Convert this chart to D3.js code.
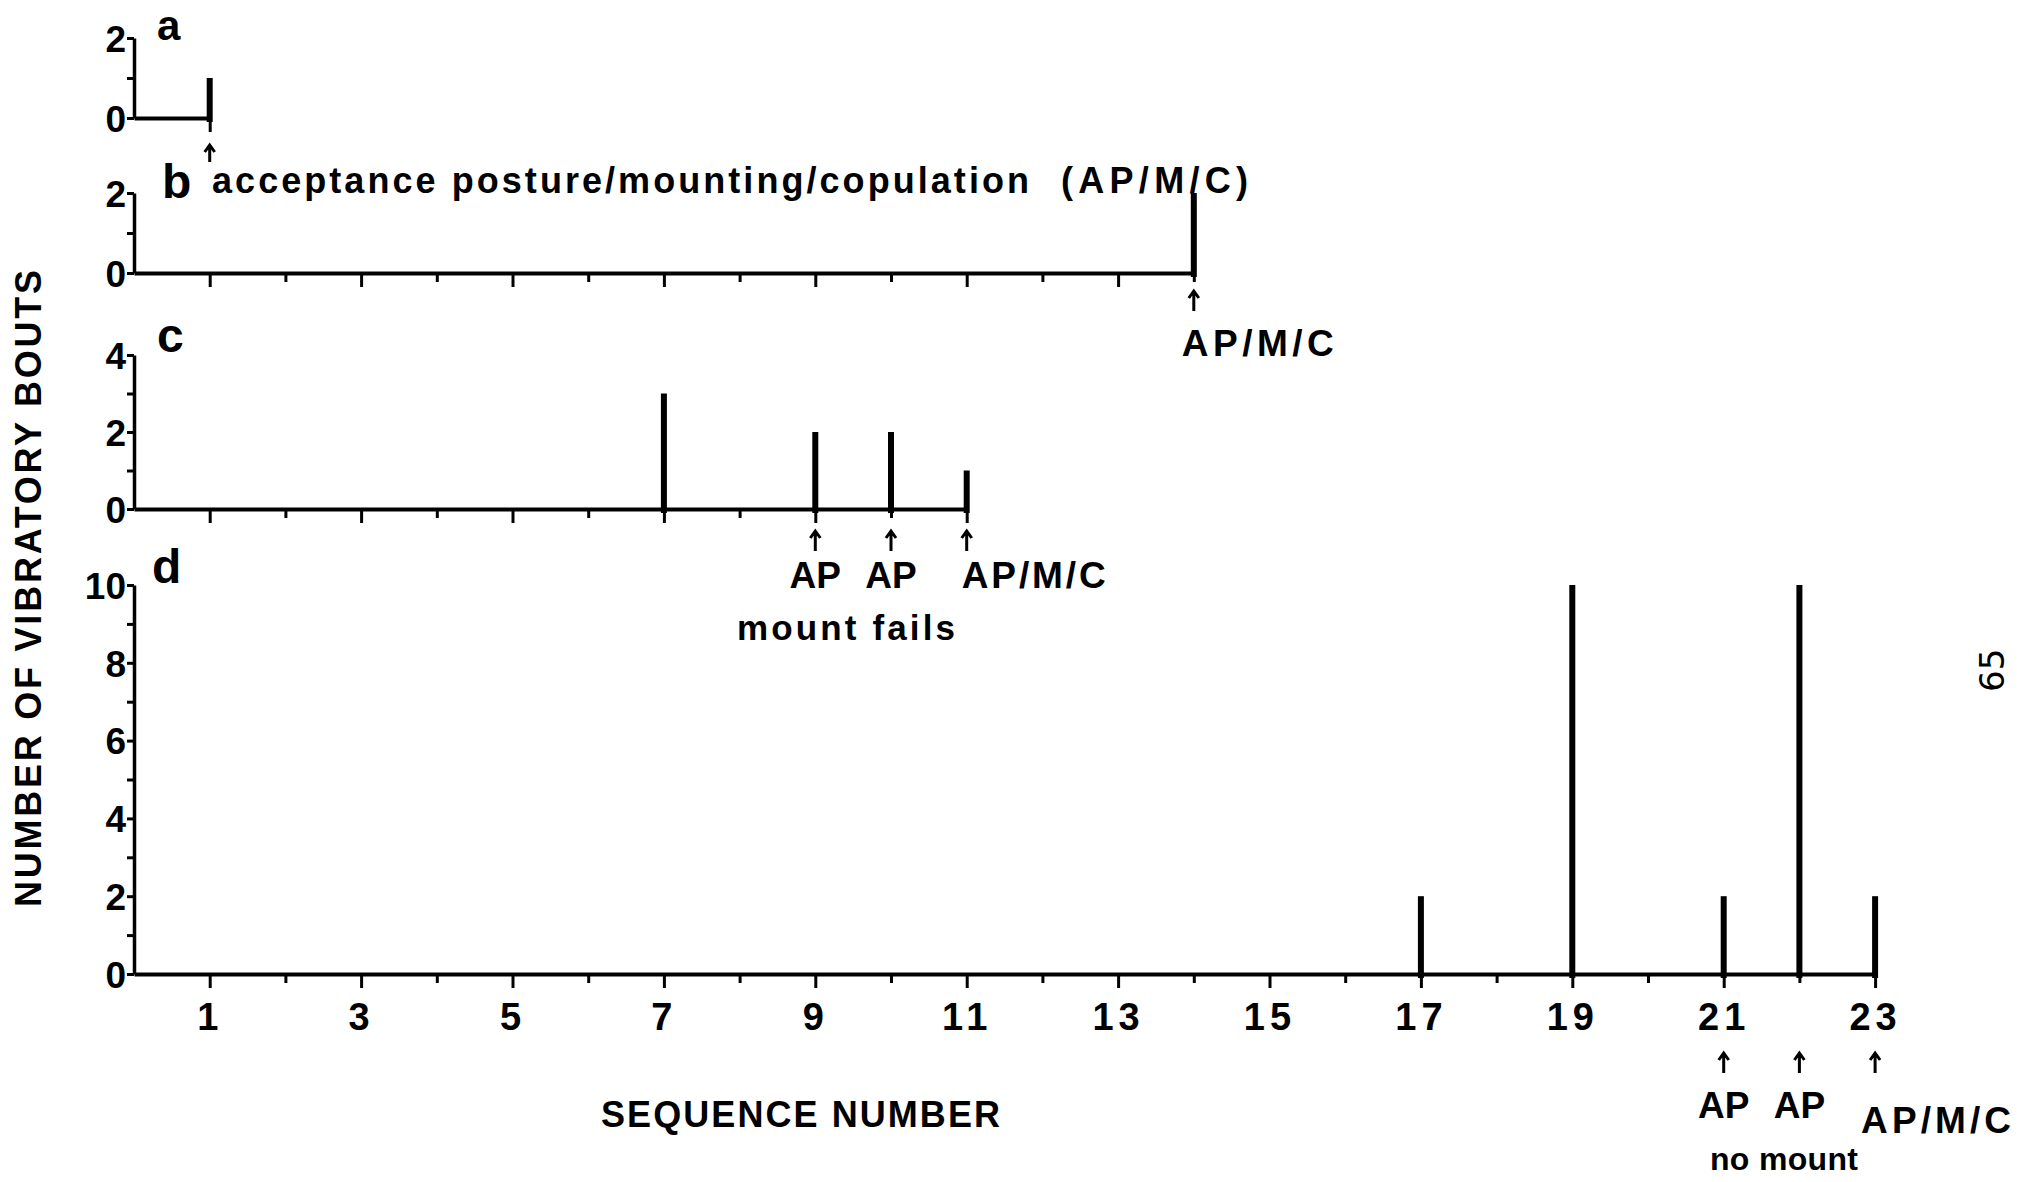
<!DOCTYPE html>
<html>
<head>
<meta charset="utf-8">
<script src="https://cdn.jsdelivr.net/npm/d3@7"></script>
<style>
  html, body { margin: 0; padding: 0; background: #fff; }
  svg text { font-family: "Liberation Sans Narrow", "Liberation Sans", Arial, sans-serif; font-weight: bold; fill: #000; }
  .wide { font-family: "Liberation Sans", Arial, sans-serif; }
</style>
</head>
<body>
<script>
// vibratory bouts per sequence number, one set of arrays per panel
const panelNames = ["a", "b", "c", "d"];
const aSeq = [1],              aBouts = [1];
const bSeq = [14],             bBouts = [2];
const cSeq = [7, 9, 10, 11],   cBouts = [3, 2, 2, 1];
const dSeq = [17, 19, 21, 22, 23], dBouts = [2, 10, 2, 10, 2];

const seqMax = [1, 14, 11, 23];
const boutMax = [2, 2, 4, 10];
const xTickLabels = [1, 3, 5, 7, 9, 11, 13, 15, 17, 19, 21, 23];

// behaviour notes under the sequence axis
const bNoteSeq = [14],        bNotes = ["AP/M/C"];
const cNoteSeq = [9, 10, 11], cNotes = ["AP", "AP", "AP/M/C"];
const dNoteSeq = [21, 22, 23], dNotes = ["AP", "AP", "AP/M/C"];

const W = 2017, H = 1182;
const svg = d3.select("body").append("svg").attr("width", W).attr("height", H);

var x0 = 134, unit = 75.7;
var panelY = [[118, 38], [273, 193], [509, 355], [974, 585]];
var seqs = [aSeq, bSeq, cSeq, dSeq];
var bouts = [aBouts, bBouts, cBouts, dBouts];
var scales = [];

for (var p = 0; p < 4; p++)
{
	var x = d3.scaleLinear().domain([0, seqMax[p]]).range([x0, x0 + seqMax[p] * unit]);
	var y = d3.scaleLinear().domain([0, boutMax[p]]).range(panelY[p]);
	scales.push({x: x, y: y});

	var g = svg.append("g");

	// y axis
	var yAxis = d3.axisLeft(y)
		.tickValues(d3.range(0, boutMax[p] + 1))
		.tickSize(7).tickSizeOuter(0).tickPadding(1)
		.tickFormat(v => v % 2 === 0 ? v : "");
	var ya = g.append("g").attr("transform", "translate(" + x0 + ",0)").call(yAxis);
	ya.select(".domain").attr("stroke-width", 3.5);
	ya.selectAll(".tick line").attr("stroke-width", 3);
	ya.selectAll(".tick text").attr("font-size", 37).attr("dy", "0.36em");

	// x axis
	var xAxis = d3.axisBottom(x)
		.tickValues(d3.range(1, seqMax[p] + 1))
		.tickSize(12).tickSizeOuter(0).tickPadding(17)
		.tickFormat(v => (p === 3 && xTickLabels.indexOf(v) >= 0) ? v : "");
	var xa = g.append("g").attr("transform", "translate(0," + y(0) + ")").call(xAxis);
	xa.select(".domain").attr("stroke-width", 4);
	xa.selectAll(".tick line").attr("stroke-width", 3)
		.attr("y2", v => v % 2 === 1 ? 14 : 9);
	xa.selectAll(".tick text").attr("font-size", 38).attr("letter-spacing", 5);
	xa.selectAll("text").attr("fill", "#000");
	xa.selectAll("path, line").attr("stroke", "#000");
	ya.selectAll("path, line").attr("stroke", "#000");

	// bars
	g.selectAll(".bar")
		.data(d3.zip(seqs[p], bouts[p]))
		.enter().append("line")
		.attr("class", "bar")
		.attr("x1", d => x(d[0])).attr("x2", d => x(d[0]))
		.attr("y1", y(0) + 4).attr("y2", d => y(d[1]))
		.attr("stroke", "#000").attr("stroke-width", 6);

	// panel letter
	g.append("text").attr("class", "wide")
		.attr("x", [157, 162, 157, 152][p]).attr("y", [40, 198, 352, 583][p])
		.attr("font-size", [42, 48, 48, 48][p]).text(panelNames[p]);
}

function arrow(xp, top, bottom)
{
	svg.append("path")
		.attr("d", "M" + xp + "," + bottom + "V" + top + "M" + (xp - 5) + "," + (top + 7) + "L" + xp + "," + top + "L" + (xp + 5) + "," + (top + 7))
		.attr("fill", "none").attr("stroke", "#000").attr("stroke-width", 3);
}

// panel a note
arrow(scales[0].x(1), 145, 162);
svg.append("text").attr("class", "wide")
	.attr("x", 212).attr("y", 193).attr("font-size", 36)
	.attr("textLength", 817).attr("lengthAdjust", "spacing")
	.text("acceptance posture/mounting/copulation");
svg.append("text").attr("class", "wide")
	.attr("x", 1061).attr("y", 193).attr("font-size", 36)
	.attr("textLength", 187).attr("lengthAdjust", "spacing")
	.text("(AP/M/C)");

// panel b note
bNoteSeq.forEach(function (s, i) {
	var xp = scales[1].x(s);
	arrow(xp, 291, 311);
	svg.append("text").attr("class", "wide").attr("x", xp - 12).attr("y", 356)
		.attr("font-size", 37).attr("textLength", 152).attr("lengthAdjust", "spacing")
		.text(bNotes[i]);
});

// panel c notes
cNoteSeq.forEach(function (s, i) {
	var xp = scales[2].x(s);
	arrow(xp, 531, 551);
	var t = svg.append("text").attr("class", "wide").attr("y", 588).attr("font-size", 37).text(cNotes[i]);
	if (cNotes[i] === "AP") t.attr("x", xp).attr("text-anchor", "middle");
	else t.attr("x", xp - 5).attr("textLength", 144).attr("lengthAdjust", "spacing");
});
svg.append("text").attr("class", "wide")
	.attr("x", 737).attr("y", 640).attr("font-size", 35)
	.attr("textLength", 218).attr("lengthAdjust", "spacing")
	.text("mount fails");

// panel d notes
dNoteSeq.forEach(function (s, i) {
	var xp = scales[3].x(s);
	arrow(xp, 1053, 1073);
	var t = svg.append("text").attr("class", "wide").attr("font-size", 37).text(dNotes[i]);
	if (dNotes[i] === "AP") t.attr("x", xp).attr("y", 1118).attr("text-anchor", "middle");
	else t.attr("x", xp - 14).attr("y", 1133).attr("textLength", 150).attr("lengthAdjust", "spacing");
});
svg.append("text").attr("class", "wide")
	.attr("x", 1710).attr("y", 1170).attr("font-size", 32)
	.attr("textLength", 148).attr("lengthAdjust", "spacing")
	.text("no mount");

// axis titles
svg.append("text").attr("class", "wide")
	.attr("x", 601).attr("y", 1127).attr("font-size", 36)
	.attr("textLength", 399).attr("lengthAdjust", "spacing")
	.text("SEQUENCE NUMBER");

svg.append("text").attr("class", "wide")
	.attr("transform", "translate(41,907) rotate(-90)")
	.attr("font-size", 36)
	.attr("textLength", 637).attr("lengthAdjust", "spacing")
	.text("NUMBER OF VIBRATORY BOUTS");

// page number, handwritten in the margin
svg.append("text")
	.attr("transform", "translate(2004,692) rotate(-90)")
	.style("font-family", "DejaVu Sans")
	.style("font-weight", "normal")
	.attr("font-size", 34)
	.text("65");
</script>
</body>
</html>
